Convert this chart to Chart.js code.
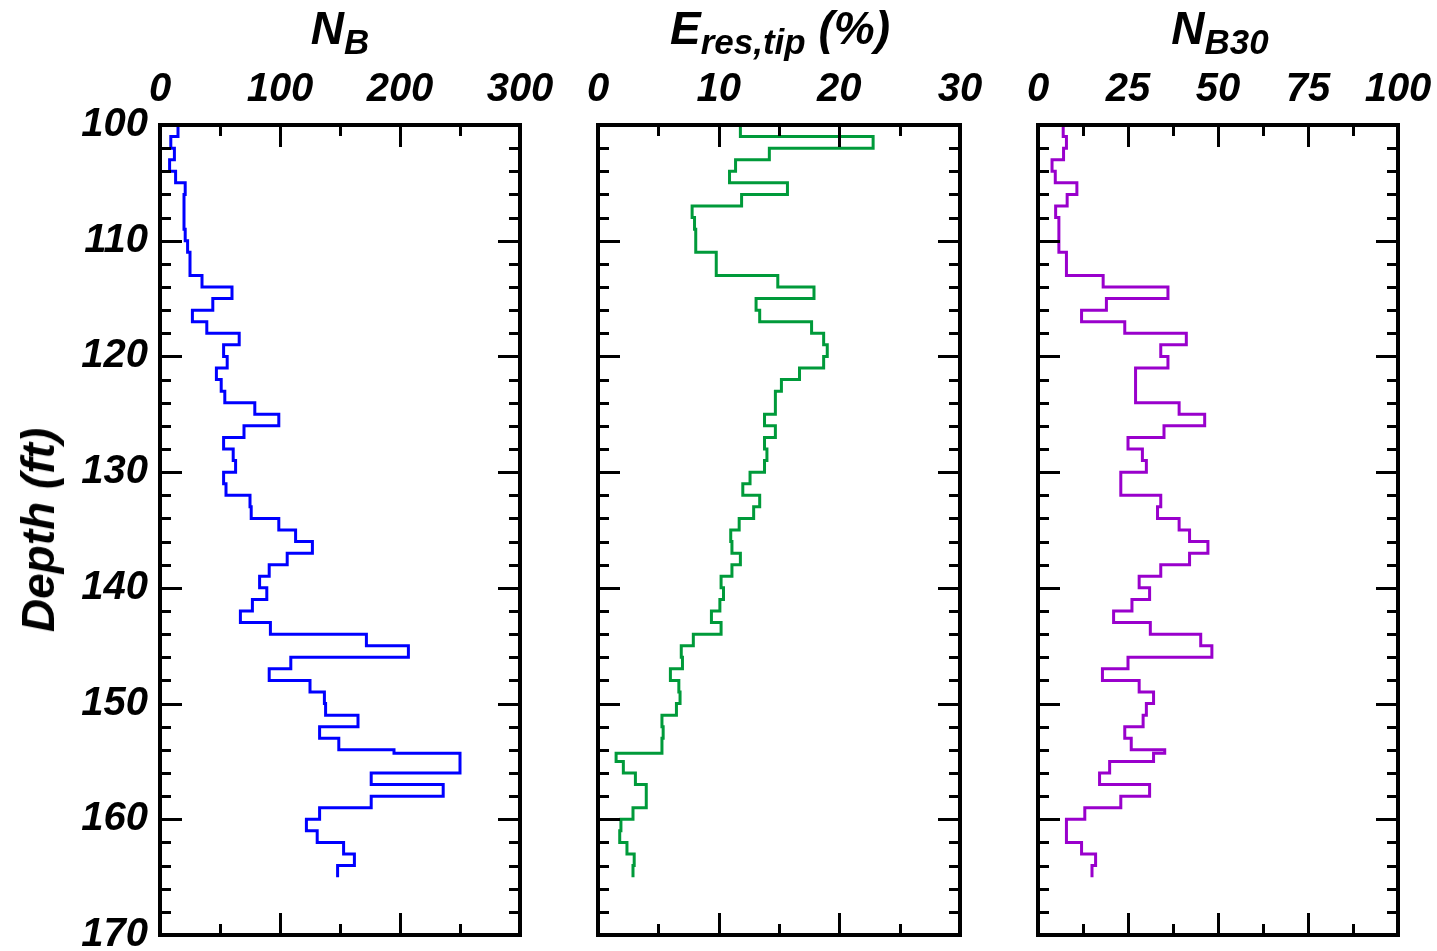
<!DOCTYPE html>
<html>
<head>
<meta charset="utf-8">
<title>Depth profiles</title>
<script src="https://cdn.jsdelivr.net/npm/chart.js@4.4.1/dist/chart.umd.min.js"></script>
<style>
  html, body { margin: 0; padding: 0; background: #fff; }
  #wrap { position: relative; width: 1437px; height: 951px; overflow: hidden; }
  #wrap canvas { position: absolute; left: 0; top: 0; }
  .ttl {
    position: absolute; top: 0; transform: translateX(-50%);
    font: italic bold 46px 'Liberation Sans', Arial, sans-serif;
    line-height: 56px; white-space: nowrap; color: #000;
  }
  .ttl sub { font-size: 0.76em; vertical-align: -0.3em; line-height: 0; }
  #ylab {
    position: absolute; left: 38px; top: 530px;
    transform: translate(-50%, -50%) rotate(-90deg);
    font: italic bold 46px 'Liberation Sans', Arial, sans-serif;
    white-space: nowrap; color: #000;
  }
</style>
</head>
<body>
<div id="wrap">
  <canvas id="nbChart" width="1437" height="951"></canvas>
  <canvas id="eresChart" width="1437" height="951"></canvas>
  <canvas id="nb30Chart" width="1437" height="951"></canvas>
  <div class="ttl" style="left:340px">N<sub>B</sub></div>
  <div class="ttl" style="left:780px">E<sub>res,tip</sub> (%)</div>
  <div class="ttl" style="left:1220px">N<sub>B30</sub></div>
  <div id="ylab">Depth (ft)</div>
</div>
<script>
(function () {
    'use strict';

    // ── Data: depth interval edges (ft) and value per interval ───────────────
    const depthEdges = [
        100, 101, 102, 103, 104, 105, 106, 107, 108, 109,
        110, 111, 112, 113, 114, 115, 116, 117, 118, 119,
        120, 121, 122, 123, 124, 125, 126, 127, 128, 129,
        130, 131, 132, 133, 134, 135, 136, 137, 138, 139,
        140, 141, 142, 143, 144, 145, 146, 147, 148, 149,
        150, 151, 152, 153, 154, 154.3, 155, 156, 157, 158,
        159, 160, 161, 162, 163, 164, 165
    ];

    const nbValues = [
        15, 9, 12, 8, 13, 21, 20, 20, 20, 21,
        23, 25, 25, 35, 60, 44, 27, 39, 66, 53,
        56, 47, 51, 54, 79, 99, 70, 53, 61, 63,
        53, 55, 75, 76, 99, 113, 127, 106, 91, 83,
        89, 77, 67, 92, 172, 207, 109, 91, 125, 137,
        138, 165, 133, 149, 195, 250, 250, 176, 236, 176,
        133, 122, 131, 153, 162, 148
    ];

    const eresValues = [
        11.8, 22.8, 14.2, 11.4, 10.9, 15.7, 11.9, 7.8, 8.0, 8.1,
        8.1, 9.8, 9.8, 14.9, 17.9, 13.1, 13.4, 17.7, 18.7, 19.0,
        18.7, 16.7, 15.2, 14.7, 14.7, 13.8, 14.7, 13.8, 14.0, 13.8,
        12.6, 12.0, 13.4, 12.9, 11.7, 11.0, 11.1, 11.8, 11.1, 10.2,
        10.4, 10.1, 9.4, 10.2, 7.9, 6.9, 7.0, 6.0, 6.7, 6.8,
        6.5, 5.3, 5.4, 5.3, 5.3, 1.5, 2.1, 3.1, 4.0, 4.0,
        2.9, 1.9, 1.8, 2.4, 3.0, 2.9
    ];

    const nb30Values = [
        7.0, 7.9, 7.1, 3.9, 4.8, 10.8, 8.1, 4.9, 5.8, 5.8,
        5.8, 7.9, 7.9, 18.1, 36.1, 19.0, 12.1, 24.1, 41.2, 34.1,
        36.1, 27.1, 27.1, 27.1, 39.2, 46.3, 35.0, 25.0, 29.0, 30.1,
        23.0, 23.0, 34.1, 33.2, 39.2, 42.1, 47.2, 42.1, 34.1, 28.1,
        31.0, 26.1, 21.0, 31.2, 45.2, 48.3, 25.0, 17.9, 28.1, 32.1,
        30.1, 29.2, 24.1, 25.9, 35.2, 32.1, 19.9, 17.1, 31.0, 23.0,
        13.0, 7.9, 7.9, 12.1, 16.0, 15.0
    ];

    // axis ranges / tick spacing
    const depthRange = [100, 170];
    const nbAxis   = { min: 0, max: 300, step: 50,   major: 100 };
    const eresAxis = { min: 0, max: 30,  step: 5,    major: 10 };
    const nb30Axis = { min: 0, max: 100, step: 12.5, major: 25 };

    // ── Theme ────────────────────────────────────────────────────────────────
    const W = 1437, H = 951;
    const AREA_TOP = 125, AREA_BOTTOM = 935;
    const TICK_FONT = { family: "'Liberation Sans Narrow', 'Liberation Sans', Arial, sans-serif",
                        size: 40, style: 'italic', weight: 'bold' };
    const MAJOR_LEN = 22, MINOR_LEN = 11;

    const isMultiple = (v, m) => Math.abs(v / m - Math.round(v / m)) < 1e-6;

    // step profile: each interval becomes a vertical segment, joined by horizontals
    function stepPoints(vals) {
        const pts = [];
        vals.forEach((v, i) => {
            pts.push({ x: v, y: depthEdges[i] });
            pts.push({ x: v, y: depthEdges[i + 1] });
        });
        return pts;
    }

    // frame + inward ticks on all four sides
    const frameTicks = {
        id: 'frameTicks',
        afterDatasetsDraw(chart, args, opts) {
            const { ctx, chartArea: a } = chart;
            const x = chart.scales.x, y = chart.scales.y;
            ctx.save();
            ctx.strokeStyle = '#000';
            ctx.lineCap = 'butt';
            ctx.lineWidth = 3;
            ctx.beginPath();
            y.ticks.forEach(t => {
                const py = Math.round(y.getPixelForValue(t.value)) + 0.5;
                const len = isMultiple(t.value, 10) ? MAJOR_LEN : MINOR_LEN;
                ctx.moveTo(a.left, py);  ctx.lineTo(a.left + len, py);
                ctx.moveTo(a.right, py); ctx.lineTo(a.right - len, py);
            });
            x.ticks.forEach(t => {
                const px = Math.round(x.getPixelForValue(t.value)) + 0.5;
                const len = isMultiple(t.value, opts.major) ? MAJOR_LEN : MINOR_LEN;
                ctx.moveTo(px, a.top);    ctx.lineTo(px, a.top + len);
                ctx.moveTo(px, a.bottom); ctx.lineTo(px, a.bottom - len);
            });
            ctx.stroke();
            ctx.lineWidth = 4;
            ctx.strokeRect(a.left, a.top, a.right - a.left, a.bottom - a.top);
            ctx.restore();
        }
    };

    function makePanel(id, values, color, axis, left, right, showDepth) {
        const yWidth = showDepth ? left : 60;
        new Chart(document.getElementById(id), {
            type: 'scatter',
            data: {
                datasets: [{
                    data: stepPoints(values),
                    showLine: true,
                    borderColor: color,
                    borderWidth: 3,
                    pointRadius: 0,
                    tension: 0,
                    fill: false
                }]
            },
            options: {
                responsive: false,
                animation: false,
                devicePixelRatio: 1,
                layout: {
                    padding: { left: left - yWidth, right: W - right, top: 0, bottom: H - AREA_BOTTOM }
                },
                plugins: {
                    legend: { display: false },
                    tooltip: { enabled: false },
                    frameTicks: { major: axis.major }
                },
                scales: {
                    x: {
                        type: 'linear',
                        position: 'top',
                        min: axis.min,
                        max: axis.max,
                        grid: { display: false, drawTicks: false },
                        border: { display: false },
                        ticks: {
                            stepSize: axis.step,
                            autoSkip: false,
                            maxRotation: 0,
                            padding: 11,
                            color: '#000',
                            font: TICK_FONT,
                            callback: v => isMultiple(v, axis.major) || v === axis.min ? String(v) : ''
                        },
                        afterFit: s => { s.height = AREA_TOP; s.paddingLeft = 0; s.paddingRight = 0; }
                    },
                    y: {
                        type: 'linear',
                        reverse: true,
                        min: depthRange[0],
                        max: depthRange[1],
                        grid: { display: false, drawTicks: false },
                        border: { display: false },
                        ticks: {
                            display: showDepth,
                            stepSize: 2,
                            autoSkip: false,
                            padding: 12,
                            color: '#000',
                            font: TICK_FONT,
                            callback: v => isMultiple(v, 10) ? String(v) : ''
                        },
                        afterFit: s => { s.width = yWidth; s.paddingTop = 0; s.paddingBottom = 0; }
                    }
                }
            },
            plugins: [frameTicks]
        });
    }

    makePanel('nbChart',   nbValues,   '#0000ff', nbAxis,   160,  520,  true);
    makePanel('eresChart', eresValues, '#009a3a', eresAxis, 598,  960,  false);
    makePanel('nb30Chart', nb30Values, '#9900cc', nb30Axis, 1038, 1398, false);
})();
</script>
</body>
</html>
